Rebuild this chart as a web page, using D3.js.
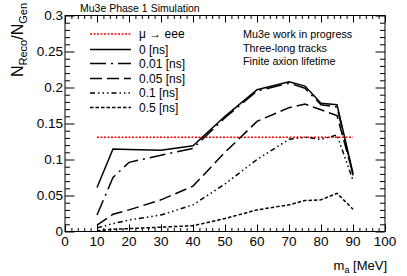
<!DOCTYPE html>
<html>
<head>
<meta charset="utf-8">
<script src="https://cdn.jsdelivr.net/npm/d3@7"></script>
<style>
  body { margin: 0; background: #fff; }
  svg { display: block; font-family: "Liberation Sans", Arial, sans-serif; }
</style>
</head>
<body>
<div id="chart"></div>
<script>
// axion mass points [MeV]
const massPoints = [10, 15, 20, 30, 40, 50, 60, 70, 75, 80, 85, 90];
// N_Reco/N_Gen per lifetime
const eff0ns   = [0.061, 0.1146, 0.114, 0.113, 0.119, 0.160, 0.197, 0.208, 0.202, 0.178, 0.176, 0.081];
const eff001ns = [0.023, 0.075, 0.096, 0.106, 0.1155, 0.158, 0.195, 0.206, 0.199, 0.176, 0.173, 0.078];
const eff005ns = [0.009, 0.024, 0.030, 0.044, 0.063, 0.110, 0.153, 0.172, 0.177, 0.169, 0.161, 0.080];
const eff01ns  = [0.005, 0.011, 0.016, 0.023, 0.037, 0.066, 0.100, 0.128, 0.131, 0.128, 0.134, 0.071];
const eff05ns  = [0.001, 0.003, 0.004, 0.006, 0.008, 0.018, 0.030, 0.037, 0.043, 0.044, 0.053, 0.031];
// mu -> eee reference level
const mueeeLevel = 0.131;
const mueeeRange = [10, 90];

const xTicks = [0, 10, 20, 30, 40, 50, 60, 70, 80, 90, 100];
const yTicks = [0, 0.05, 0.1, 0.15, 0.2, 0.25, 0.3];
const yTickLabels = ['0', '0.05', '0.1', '0.15', '0.2', '0.25', '0.3'];
const legendLabels = ['\u03bc \u2192 eee', '0 [ns]', '0.01 [ns]', '0.05 [ns]', '0.1 [ns]', '0.5 [ns]'];
const infoLines = ['Mu3e work in progress', 'Three-long tracks', 'Finite axion lifetime'];

const W = 407, H = 276;
const margin = { top: 15.5, right: 22, bottom: 44.5, left: 65 };
const w = W - margin.left - margin.right;
const h = H - margin.top - margin.bottom;

const x = d3.scaleLinear().domain([0, 100]).range([0, w]);
const y = d3.scaleLinear().domain([0, 0.3]).range([h, 0]);

const svg = d3.select('#chart').append('svg')
  .attr('width', W).attr('height', H);
const g = svg.append('g')
  .attr('transform', `translate(${margin.left},${margin.top})`);

// ticks on all four sides, ROOT style
const xMinor = d3.range(0, 100.01, 2).filter(v => v % 10 !== 0);
const yMinor = d3.range(0, 0.3001, 0.01).filter(v => Math.abs(v / 0.05 - Math.round(v / 0.05)) > 1e-6);

function tickAxis(axisFn, scale, values, size) {
  return axisFn(scale).tickValues(values).tickSize(size).tickFormat('');
}

const axBottom = g.append('g').attr('transform', `translate(0,${h})`);
axBottom.call(tickAxis(d3.axisBottom, x, xTicks, -7));
axBottom.append('g').call(tickAxis(d3.axisBottom, x, xMinor, -3.5));
const axTop = g.append('g');
axTop.call(tickAxis(d3.axisTop, x, xTicks, -7));
axTop.append('g').call(tickAxis(d3.axisTop, x, xMinor, -3.5));
const axLeft = g.append('g');
axLeft.call(tickAxis(d3.axisLeft, y, yTicks, -9.5));
axLeft.append('g').call(tickAxis(d3.axisLeft, y, yMinor, -5));
const axRight = g.append('g').attr('transform', `translate(${w},0)`);
axRight.call(tickAxis(d3.axisRight, y, yTicks, -9.5));
axRight.append('g').call(tickAxis(d3.axisRight, y, yMinor, -5));

g.selectAll('.domain').remove();
g.selectAll('.tick line').attr('stroke', '#000').attr('stroke-width', 1);

g.append('rect')
  .attr('x', 0).attr('y', 0).attr('width', w).attr('height', h)
  .attr('fill', 'none').attr('stroke', '#000').attr('stroke-width', 1);

// tick labels
g.selectAll('.xlab').data(xTicks).enter().append('text')
  .attr('x', d => x(d)).attr('y', h + 14)
  .attr('text-anchor', 'middle').attr('font-size', 13.5)
  .text(d => d);
g.selectAll('.ylab').data(yTicks).enter().append('text')
  .attr('x', -2).attr('y', d => y(d) + 4.8)
  .attr('text-anchor', 'end').attr('font-size', 13.5)
  .text((d, i) => yTickLabels[i]);

// axis titles
const xt = svg.append('text')
  .attr('x', margin.left + w + 2).attr('y', 270)
  .attr('text-anchor', 'end').attr('font-size', 13);
xt.append('tspan').text('m');
xt.append('tspan').attr('font-size', 9).attr('dy', 3).text('a');
xt.append('tspan').attr('dy', -3).text(' [MeV]');

const yt = svg.append('text')
  .attr('transform', 'translate(23,3) rotate(-90)')
  .attr('text-anchor', 'end').attr('font-size', 16);
yt.append('tspan').text('N');
yt.append('tspan').attr('font-size', 11).attr('dy', 3.5).text('Reco');
yt.append('tspan').attr('dy', -3.5).text('/N');
yt.append('tspan').attr('font-size', 11).attr('dy', 3.5).text('Gen');

// header and info text
svg.append('text').attr('x', 80).attr('y', 11.5)
  .attr('font-size', 10.5).text('Mu3e Phase 1 Simulation');
svg.selectAll('.info').data(infoLines).enter().append('text')
  .attr('x', 243).attr('y', (d, i) => 38 + i * 13.5)
  .attr('font-size', 10.8).text(d => d);

// curves
const series = [
  { values: eff0ns,   dash: null },
  { values: eff001ns, dash: '16,5,2,5' },
  { values: eff005ns, dash: '12,5' },
  { values: eff01ns,  dash: '5,3,1.5,3,1.5,3,1.5,3' },
  { values: eff05ns,  dash: '3.5,2' }
];

const line = d3.line()
  .x(d => x(d[0]))
  .y(d => y(d[1]));

g.append('path')
  .attr('d', line(mueeeRange.map(m => [m, mueeeLevel])))
  .attr('fill', 'none').attr('stroke', '#f00').attr('stroke-width', 1.5)
  .attr('stroke-dasharray', '2,1.5');

series.forEach(s => {
  g.append('path')
    .attr('d', line(massPoints.map((m, i) => [m, s.values[i]])))
    .attr('fill', 'none').attr('stroke', '#000').attr('stroke-width', 1.5)
    .attr('stroke-dasharray', s.dash);
});

// legend
const legendRows = [34, 49.5, 63.5, 78.5, 93, 107.5];
const legendStyles = [
  { color: '#f00', dash: '2,1.5' },
  { color: '#000', dash: null },
  { color: '#000', dash: '16,5,2,5' },
  { color: '#000', dash: '12,5' },
  { color: '#000', dash: '5,3,1.5,3,1.5,3,1.5,3' },
  { color: '#000', dash: '3.5,2' }
];
const leg = svg.append('g');
legendLabels.forEach((lab, i) => {
  leg.append('line')
    .attr('x1', 90).attr('x2', 131)
    .attr('y1', legendRows[i]).attr('y2', legendRows[i])
    .attr('stroke', legendStyles[i].color).attr('stroke-width', 1.5)
    .attr('stroke-dasharray', legendStyles[i].dash);
  leg.append('text')
    .attr('x', 139).attr('y', legendRows[i] + 4.3)
    .attr('font-size', 12).text(lab);
});
</script>
</body>
</html>
